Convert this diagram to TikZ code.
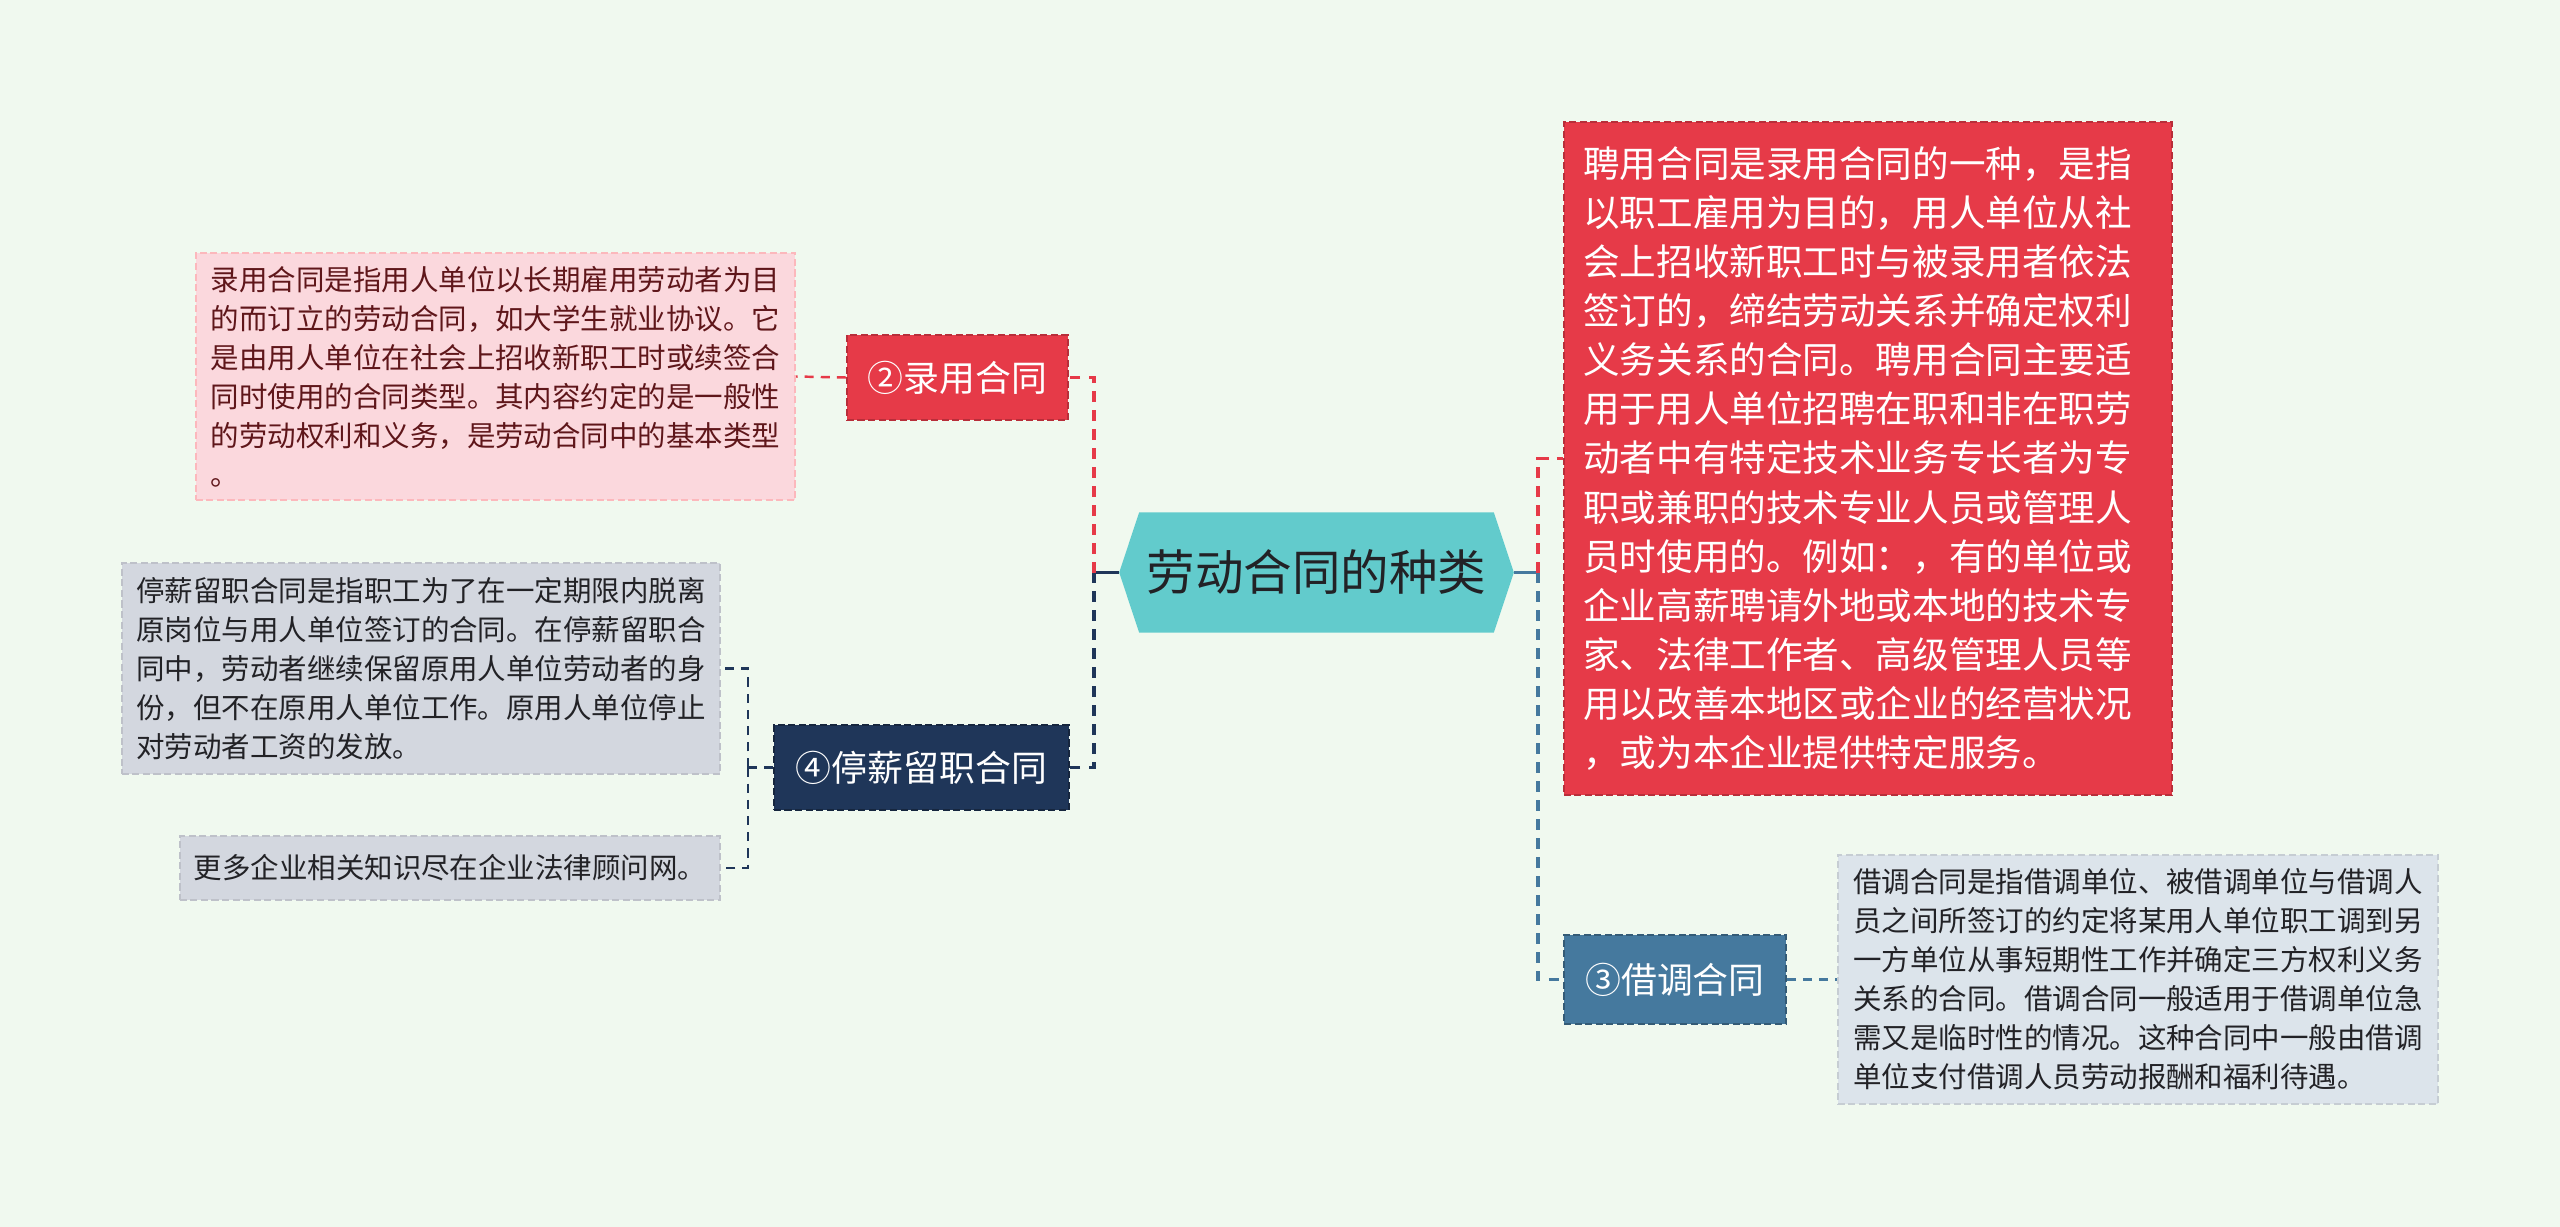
\documentclass[tikz,border=0pt]{standalone}
\usepackage{fontspec}
\setmainfont{Noto Sans CJK SC}
\usetikzlibrary{backgrounds}

\definecolor{bgmint}{RGB}{240,249,239}
\definecolor{hexteal}{RGB}{98,203,204}
\definecolor{redc}{RGB}{230,58,72}
\definecolor{navyc}{RGB}{31,54,89}
\definecolor{steelc}{RGB}{69,121,158}
\definecolor{pinkfill}{RGB}{251,216,221}
\definecolor{grayfill}{RGB}{211,215,223}
\definecolor{icefill}{RGB}{220,228,235}
\definecolor{maroon}{RGB}{95,22,26}
\definecolor{inkdark}{RGB}{34,34,38}

\tikzset{
    box/.style={rectangle, inner sep=0pt, align=left, dashed, dash pattern=on 2pt off 1pt, line width=0.5pt},
    note/.style={box, font=\fontsize{8.1pt}{11.1pt}\selectfont},
    branch/.style={box, text=white, font=\fontsize{10.2pt}{12pt}\selectfont},
    limb/.style={line width=1.1pt, dash pattern=on 3pt off 2.4pt},
    twig/.style={line width=0.7pt, dash pattern=on 2.6pt off 2pt},
    trunk/.style={line width=1.1pt},
}

\begin{document}
\begin{tikzpicture}[x=0.01cm, y=-0.01cm]
\useasboundingbox (0,0) rectangle (2560,1227);

% centre
\node[inner sep=0pt, minimum width=3.93cm, minimum height=1.19cm, text=inkdark,
      font=\fontsize{13.8pt}{16pt}\selectfont] (hub) at (1316.5,572.5) {劳动合同的种类};

% left side
\node[branch, fill=redc, draw=redc!80!black, minimum width=2.21cm, minimum height=0.85cm]
    (lu) at (957.5,377.5) {②录用合同};
\node[note, fill=pinkfill, draw=pinkfill!85!red, text=maroon, minimum width=5.99cm, minimum height=2.47cm]
    (ludesc) at (495.5,376.5) {录用合同是指用人单位以长期雇用劳动者为目\\
的而订立的劳动合同，如大学生就业协议。它\\
是由用人单位在社会上招收新职工时或续签合\\
同时使用的合同类型。其内容约定的是一般性\\
的劳动权利和义务，是劳动合同中的基本类型\\
。};
\node[branch, fill=navyc, draw=navyc!70!black, minimum width=2.95cm, minimum height=0.85cm]
    (ting) at (921.5,767.5) {④停薪留职合同};
\node[note, fill=grayfill, draw=grayfill!90!black, text=inkdark, minimum width=5.98cm, minimum height=2.11cm]
    (tdesc1) at (421,668.5) {停薪留职合同是指职工为了在一定期限内脱离\\
原岗位与用人单位签订的合同。在停薪留职合\\
同中，劳动者继续保留原用人单位劳动者的身\\
份，但不在原用人单位工作。原用人单位停止\\
对劳动者工资的发放。};
\node[note, fill=grayfill, draw=grayfill!90!black, text=inkdark, minimum width=5.40cm, minimum height=0.64cm]
    (tdesc2) at (450,868) {更多企业相关知识尽在企业法律顾问网。};

% right side
\node[box, fill=redc, draw=redc!80!black, text=white, minimum width=6.08cm, minimum height=6.73cm,
      text width=5.69cm, font=\fontsize{10.4pt}{13.95pt}\selectfont]
    (pin) at (1868,458.5) {聘用合同是录用合同的一种，是指\\
以职工雇用为目的，用人单位从社\\
会上招收新职工时与被录用者依法\\
签订的，缔结劳动关系并确定权利\\
义务关系的合同。聘用合同主要适\\
用于用人单位招聘在职和非在职劳\\
动者中有特定技术业务专长者为专\\
职或兼职的技术专业人员或管理人\\
员时使用的。例如：，有的单位或\\
企业高薪聘请外地或本地的技术专\\
家、法律工作者、高级管理人员等\\
用以改善本地区或企业的经营状况\\
，或为本企业提供特定服务。};
\node[branch, fill=steelc, draw=steelc!75!black, minimum width=2.22cm, minimum height=0.89cm]
    (jie) at (1675,979.5) {③借调合同};
\node[note, fill=icefill, draw=icefill!90!black, text=inkdark, minimum width=6.00cm, minimum height=2.49cm]
    (jdesc) at (2138,979.5) {借调合同是指借调单位、被借调单位与借调人\\
员之间所签订的约定将某用人单位职工调到另\\
一方单位从事短期性工作并确定三方权利义务\\
关系的合同。借调合同一般适用于借调单位急\\
需又是临时性的情况。这种合同中一般由借调\\
单位支付借调人员劳动报酬和福利待遇。};

\begin{scope}[on background layer]
    \fill[bgmint] (0,0) rectangle (2560,1227);
    \fill[hexteal] (hub.west) -- ([xshift=0.2cm]hub.north west) -- ([xshift=-0.2cm]hub.north east)
        -- (hub.east) -- ([xshift=-0.2cm]hub.south east) -- ([xshift=0.2cm]hub.south west) -- cycle;
\end{scope}

% connectors
\coordinate (hubL) at (1094,572.5);
\coordinate (hubR) at (1538,572.5);
\coordinate (tingJ) at (748,767.5);

\draw[trunk, navyc] (hub.west) -- (hubL);
\draw[limb, redc] (hubL) |- (lu.east);
\draw[limb, navyc] (hubL) |- (ting.east);
\draw[twig, redc] (lu.west) -- (ludesc.east);
\draw[twig, navyc] (ting.west) -- (tingJ);
\draw[twig, navyc] (tingJ) |- (tdesc1.east);
\draw[twig, navyc] (tingJ) |- (tdesc2.east);

\draw[trunk, steelc] (hub.east) -- (hubR);
\draw[limb, redc] (hubR) |- (pin.west);
\draw[limb, steelc] (hubR) |- (jie.west);
\draw[twig, steelc] (jie.east) -- (jdesc.west);
\end{tikzpicture}
\end{document}
